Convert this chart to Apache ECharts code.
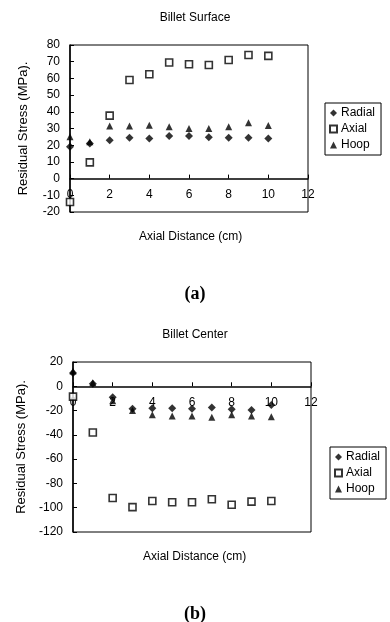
<!DOCTYPE html>
<html>
<head>
<meta charset="utf-8">
<script src="https://cdn.jsdelivr.net/npm/echarts@6/dist/echarts.min.js"></script>
<style>
html,body{margin:0;padding:0;background:#fff;}
#chart{width:390px;height:622px;}
</style>
</head>
<body>
<div id="chart"></div>
<script>
// Axial distance (cm)
var distances = [0, 1, 2, 3, 4, 5, 6, 7, 8, 9, 10];
// Billet Surface (MPa)
var surfaceRadial = [19, 21, 23, 24.5, 24, 25.5, 25.5, 24.7, 24.5, 24.5, 24];
var surfaceAxial  = [-14, 9.7, 37.7, 59, 62.5, 69.5, 68.5, 68, 71, 74, 73.5];
var surfaceHoop   = [25, 22, 31.5, 31.5, 32, 31, 30, 30, 31, 33.5, 31.8];
// Billet Center (MPa)
var centerRadial = [11, 2, -9, -18.5, -18, -18, -18.5, -17.5, -19, -19.5, -15.5];
var centerAxial  = [-8.5, -38, -92, -99.5, -94.5, -95.5, -95.5, -93, -97.5, -95, -94.5];
var centerHoop   = [12.5, 3, -12, -20, -23.5, -24.5, -24.5, -25.5, -23.5, -24.5, -25];
// Labels
var seriesNames = ['Radial', 'Axial', 'Hoop'];
var chartTitles = ['Billet Surface', 'Billet Center'];
var panelLabels = ['(a)', '(b)'];
var xName = 'Axial Distance (cm)';
var yName = 'Residual Stress (MPa).';

function pairs(vals) {
  return distances.map(function (d, i) { return [d, vals[i]]; });
}

var FONT = 'Liberation Sans, Arial, sans-serif';
var symbols = {
  Radial: { symbol: 'diamond', size: 8, style: { color: '#000' } },
  Axial: { symbol: 'rect', size: 7, style: { color: '#fff', borderColor: '#000', borderWidth: 1.6 } },
  Hoop: { symbol: 'triangle', size: 7, style: { color: '#000' } }
};

function mkSeries(idx, data) {
  return seriesNames.map(function (n, k) {
    return {
      name: n, type: 'scatter', xAxisIndex: idx, yAxisIndex: idx,
      symbol: symbols[n].symbol, symbolSize: symbols[n].size,
      itemStyle: symbols[n].style,
      data: pairs(data[k]), z: 5
    };
  });
}

// x axis drawn through y = 0: offset from the grid bottom
function mkX(idx, yMin, yMax, gridHeight) {
  var off = -gridHeight * (0 - yMin) / (yMax - yMin);
  return {
    gridIndex: idx, type: 'value', min: 0, max: 12, interval: 2,
    position: 'bottom', offset: off,
    axisLine: { onZero: false, lineStyle: { color: '#000', width: 1.5 } },
    axisTick: { inside: true, length: 4, lineStyle: { color: '#000' } },
    axisLabel: { color: '#000', fontSize: 12, fontFamily: FONT, margin: 10 },
    splitLine: { show: false }
  };
}

function mkY(idx, min, max, interval) {
  return {
    gridIndex: idx, type: 'value', min: min, max: max, interval: interval,
    name: yName, nameLocation: 'middle', nameGap: 40,
    nameTextStyle: { color: '#000', fontSize: 13, fontFamily: FONT },
    axisLine: { show: true, onZero: false, lineStyle: { color: '#000', width: 1.5 } },
    axisTick: { show: true, inside: true, length: 4, lineStyle: { color: '#000' } },
    axisLabel: { color: '#000', fontSize: 12, fontFamily: FONT, margin: 10 },
    splitLine: { show: false }
  };
}

function mkLegend(left, top) {
  return {
    orient: 'vertical', left: left, top: top, data: seriesNames,
    borderColor: '#000', borderWidth: 1, padding: [4, 6, 4, 4],
    itemGap: 4, itemWidth: 7, itemHeight: 7,
    textStyle: { color: '#000', fontSize: 12, fontFamily: FONT, padding: [0, 0, 0, -1] },
    selectedMode: false
  };
}

var chart = echarts.init(document.getElementById('chart'), null, { renderer: 'canvas' });
chart.setOption({
  backgroundColor: '#fff',
  animation: false,
  title: [
    { text: chartTitles[0], left: 'center', top: 7, textStyle: { fontSize: 12, fontWeight: 'normal', color: '#000', fontFamily: FONT } },
    { text: chartTitles[1], left: 'center', top: 324, textStyle: { fontSize: 12, fontWeight: 'normal', color: '#000', fontFamily: FONT } },
    { text: xName, left: 134, top: 226, textStyle: { fontSize: 12, fontWeight: 'normal', color: '#000', fontFamily: FONT } },
    { text: xName, left: 138, top: 546, textStyle: { fontSize: 12, fontWeight: 'normal', color: '#000', fontFamily: FONT } },
    { text: panelLabels[0], left: 'center', top: 280, textStyle: { fontSize: 18, fontWeight: 'bold', color: '#000', fontFamily: 'Liberation Serif, Times New Roman, serif' } },
    { text: panelLabels[1], left: 'center', top: 600, textStyle: { fontSize: 18, fontWeight: 'bold', color: '#000', fontFamily: 'Liberation Serif, Times New Roman, serif' } }
  ],
  legend: [mkLegend(325, 103), mkLegend(330, 447)],
  grid: [
    { left: 70, right: 82, top: 45, height: 167, show: true, borderColor: '#000', borderWidth: 1, backgroundColor: 'transparent' },
    { left: 73, right: 79, top: 362, height: 170, show: true, borderColor: '#000', borderWidth: 1, backgroundColor: 'transparent' }
  ],
  xAxis: [mkX(0, -20, 80, 167), mkX(1, -120, 20, 170)],
  yAxis: [mkY(0, -20, 80, 10), mkY(1, -120, 20, 20)],
  series: mkSeries(0, [surfaceRadial, surfaceAxial, surfaceHoop])
    .concat(mkSeries(1, [centerRadial, centerAxial, centerHoop]))
});
</script>
</body>
</html>
